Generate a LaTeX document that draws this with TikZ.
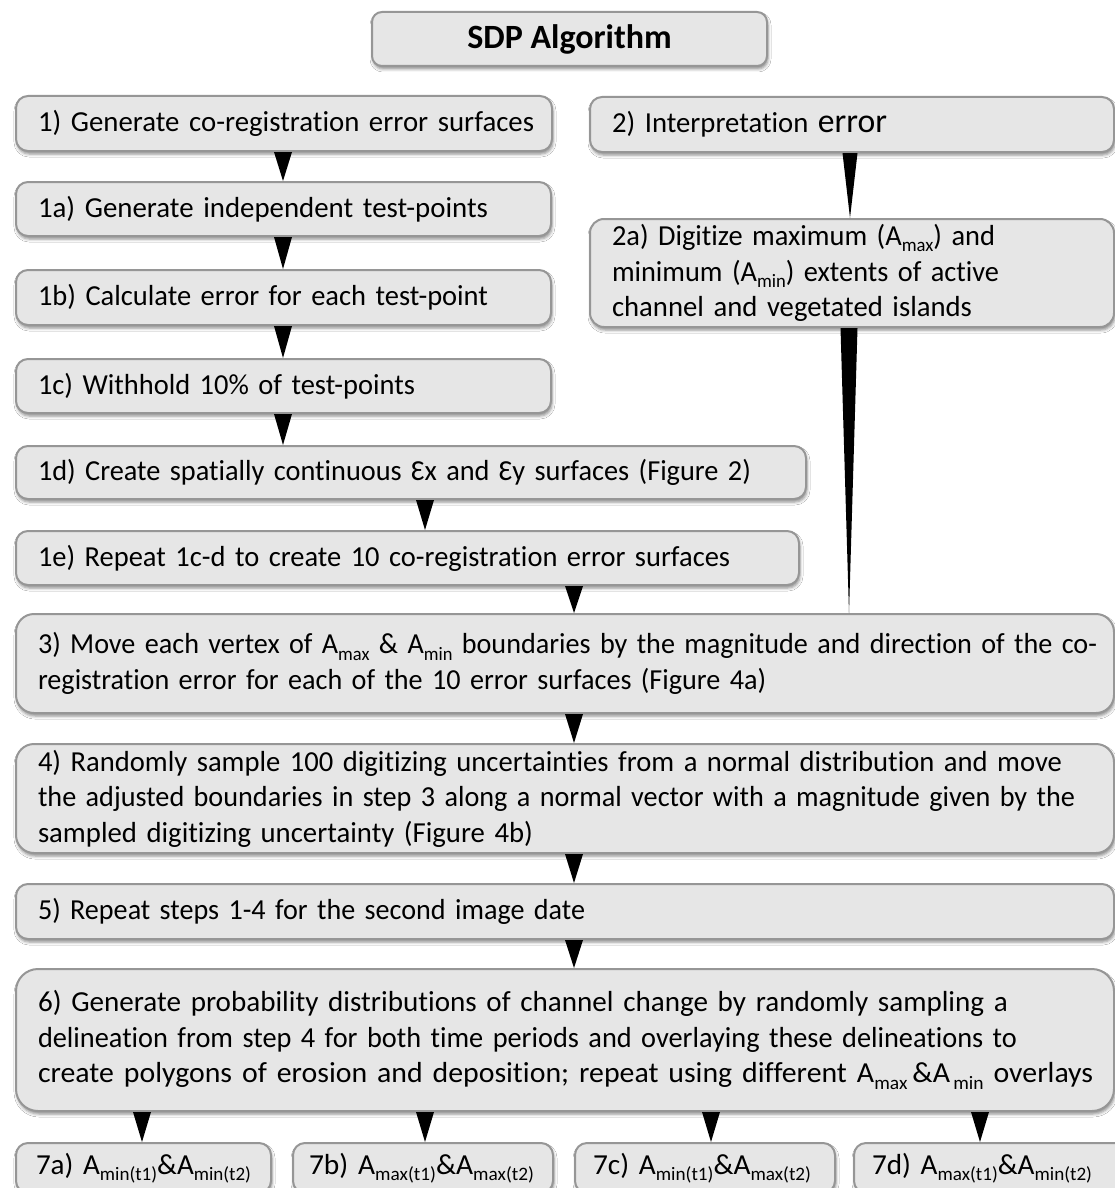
\documentclass[tikz,border=0pt]{standalone}
\usepackage{fontspec}
\setmainfont{Carlito}[Ligatures=NoCommon]
\usetikzlibrary{shadows.blur,calc}
\definecolor{boxfill}{RGB}{230,230,230}
\definecolor{boxline}{RGB}{150,150,150}
\newcommand{\subtx}[1]{\raisebox{-0.22em}{\fontsize{19}{19}\selectfont #1}}
\newcommand{\fitln}[2]{\resizebox{#1pt}{\height}{#2}}
\newcommand{\wedgearrow}[4]{\fill[arrowwedge] ($(#1.south -| #3)+(-#4,0)$) -- ($(#1.south -| #3)+(#4,0)$) -- (#2.north -| #3) -- cycle;}
\begin{document}
\begin{tikzpicture}[x=1pt,y=-1pt,
  stepbox/.style={draw=boxline, fill=boxfill, line width=2pt, rounded corners=12pt,
    anchor=north west, inner xsep=22pt, inner ysep=0pt, align=left,
    font=\fontsize{29}{35.5}\selectfont,
    blur shadow={shadow xshift=1pt, shadow yshift=-3pt, shadow blur radius=3pt, shadow opacity=45}},
  arrowwedge/.style={fill=black}]
\useasboundingbox (0,0) rectangle (1115,1188);
\fill[white] (0,0) rectangle (1115,1188);

% title
\node[stepbox, anchor=center, align=center, inner xsep=0pt, minimum width=395pt, minimum height=54pt,
  rounded corners=10pt, font=\fontsize{34}{40}\selectfont\bfseries] (title) at (569.5,39) {SDP Algorithm};

% left column
\node[stepbox, text width=492pt, minimum height=55pt] (b1) at (15,95) {\fitln{496}{1) Generate co-registration error surfaces}};
\node[stepbox, text width=491pt, minimum height=54pt] (b1a) at (15,181) {\fitln{450}{1a) Generate independent test-points}};
\node[stepbox, text width=491pt, minimum height=55pt] (b1b) at (15,269) {\fitln{450}{1b) Calculate error for each test-point}};
\node[stepbox, text width=491pt, minimum height=54pt] (b1c) at (15,358) {\fitln{377}{1c) Withhold 10\% of test-points}};
\node[stepbox, text width=746pt, minimum height=53pt] (b1d) at (15,445) {\fitln{713}{1d) Create spatially continuous Ɛx and Ɛy surfaces (Figure 2)}};
\node[stepbox, text width=739pt, minimum height=54pt] (b1e) at (15,530) {\fitln{692}{1e) Repeat 1c-d to create 10 co-registration error surfaces}};

% right column
\node[stepbox, text width=480pt, minimum height=55pt] (b2) at (589,96) {\fitln{275}{2) Interpretation {\fontsize{34}{34}\selectfont error}}};
\node[stepbox, text width=480pt, minimum height=108pt, rounded corners=14pt] (b2a) at (589,218)
  {\fitln{383}{2a) Digitize maximum (A\subtx{max}) and}\\
   \fitln{387}{minimum (A\subtx{min}) extents of active}\\
   \fitln{360}{channel and vegetated islands}};

% full-width steps
\node[stepbox, text width=1054pt, minimum height=99pt, rounded corners=18pt] (b3) at (15,613)
  {\fitln{1059}{3) Move each vertex of A\subtx{max} \& A\subtx{min} boundaries by the magnitude and direction of the co-}\\
   \fitln{728}{registration error for each of the 10 error surfaces (Figure 4a)}};
\node[stepbox, text width=1054pt, minimum height=109pt, rounded corners=18pt] (b4) at (15,743)
  {\fitln{1024}{4) Randomly sample 100 digitizing uncertainties from a normal distribution and move}\\
   \fitln{1037}{the adjusted boundaries in step 3 along a normal vector with a magnitude given by the}\\
   \fitln{495}{sampled digitizing uncertainty (Figure 4b)}};
\node[stepbox, text width=1054pt, minimum height=55pt] (b5) at (15,883)
  {\fitln{547}{5) Repeat steps 1-4 for the second image date}};
\node[stepbox, text width=1054pt, minimum height=142pt, rounded corners=22pt] (b6) at (15,968)
  {\fitln{970}{6) Generate probability distributions of channel change by randomly sampling a}\\
   \fitln{979}{delineation from step 4 for both time periods and overlaying these delineations to}\\
   \fitln{1055}{create polygons of erosion and deposition; repeat using different A\subtx{max}\,\&A\subtx{\,min} overlays}};

% final boxes
\node[stepbox, inner xsep=20pt, text width=215pt, minimum height=50pt] (b7a) at (15,1142)
  {\fitln{215}{7a) A\subtx{min(t1)}\&A\subtx{min(t2)}}};
\node[stepbox, inner xsep=16pt, text width=228pt, minimum height=50pt] (b7b) at (292,1142)
  {\fitln{225}{7b) A\subtx{max(t1)}\&A\subtx{max(t2)}}};
\node[stepbox, inner xsep=18pt, text width=224pt, minimum height=50pt] (b7c) at (574,1142)
  {\fitln{218}{7c) A\subtx{min(t1)}\&A\subtx{max(t2)}}};
\node[stepbox, inner xsep=18pt, text width=236pt, minimum height=50pt] (b7d) at (853,1142)
  {\fitln{220}{7d) A\subtx{max(t1)}\&A\subtx{min(t2)}}};

% arrow x positions
\coordinate (xa) at (283,0);
\coordinate (xb) at (425,0);
\coordinate (xc) at (574,0);
\coordinate (xd) at (142,0);
\coordinate (xe) at (711,0);
\coordinate (xf) at (980,0);
\coordinate (xg) at (850,0);
\coordinate (xh) at (849,0);

\wedgearrow{b1}{b1a}{xa}{9}
\wedgearrow{b1a}{b1b}{xa}{9}
\wedgearrow{b1b}{b1c}{xa}{9}
\wedgearrow{b1c}{b1d}{xa}{9}
\wedgearrow{b1d}{b1e}{xb}{9}
\wedgearrow{b1e}{b3}{xc}{9}
\wedgearrow{b3}{b4}{xc}{9}
\wedgearrow{b4}{b5}{xc}{9}
\wedgearrow{b5}{b6}{xc}{9}
\wedgearrow{b6}{b7a}{xd}{9}
\wedgearrow{b6}{b7b}{xb}{9}
\wedgearrow{b6}{b7c}{xe}{9}
\wedgearrow{b6}{b7d}{xf}{9}
\wedgearrow{b2}{b2a}{xg}{7.5}
\wedgearrow{b2a}{b3}{xh}{8.5}
\end{tikzpicture}
\end{document}
